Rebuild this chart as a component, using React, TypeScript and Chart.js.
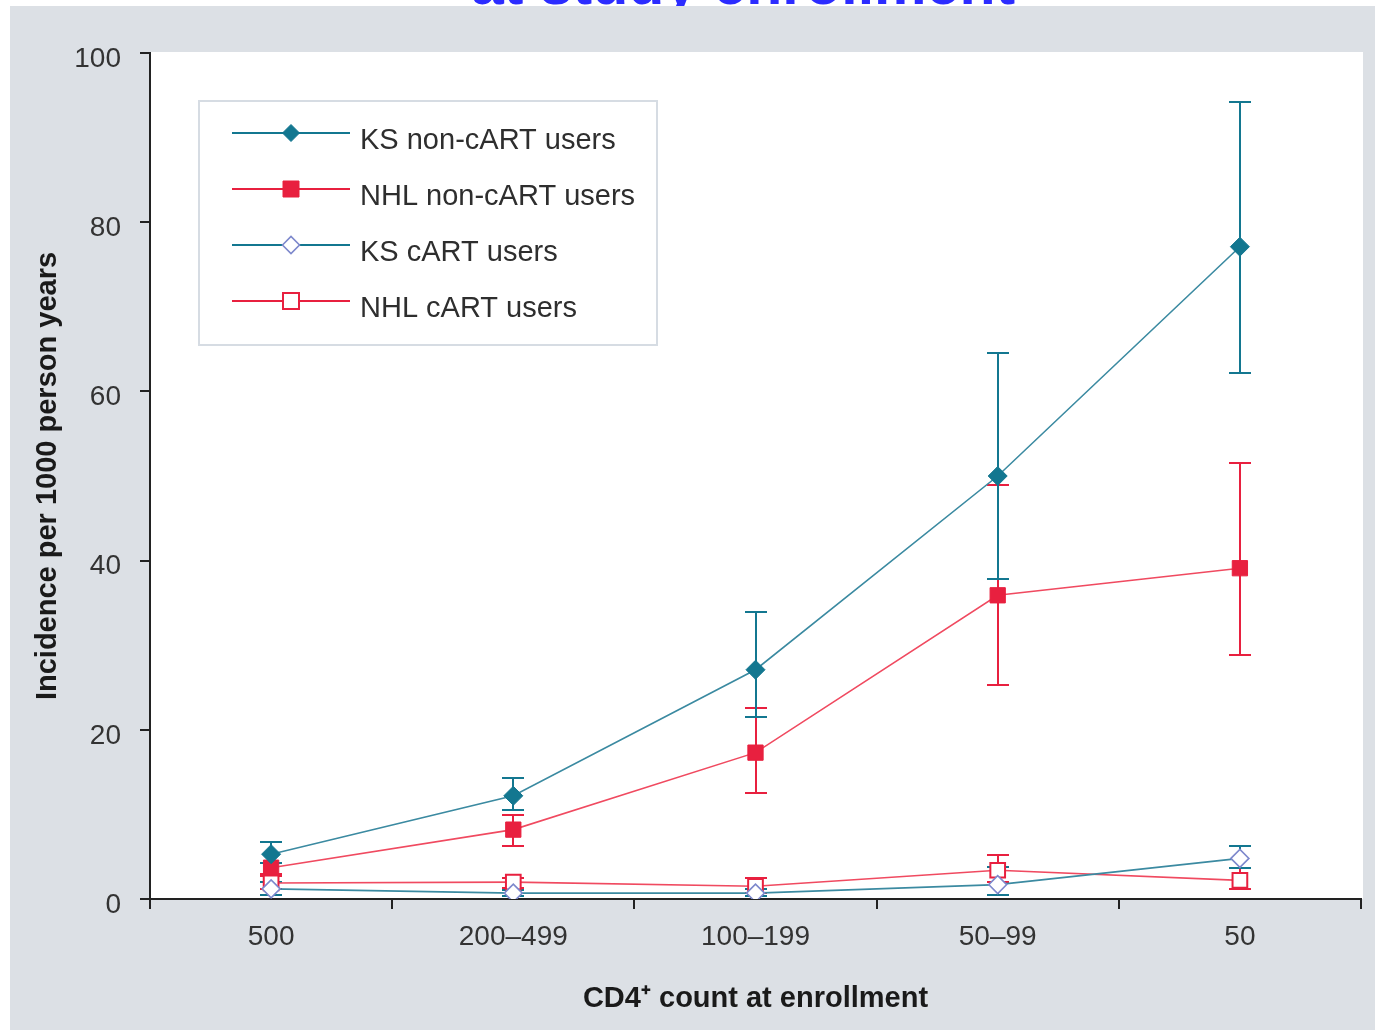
import React, { useEffect, useRef } from 'react';
import { Chart, registerables } from 'chart.js';

Chart.register(...registerables);

const categories = ['500', '200–499', '100–199', '50–99', '50'];
const seriesLabels = ['KS non-cART users', 'NHL non-cART users', 'KS cART users', 'NHL cART users'];

const ksNonCart = [5.3, 12.2, 27.1, 50.0, 77.1];
const ksNonCartLow = [4.3, 10.5, 21.5, 37.8, 62.2];
const ksNonCartHigh = [6.7, 14.3, 33.9, 64.5, 94.2];

const nhlNonCart = [3.7, 8.2, 17.3, 35.9, 39.1];
const nhlNonCartLow = [3.0, 6.3, 12.5, 25.3, 28.8];
const nhlNonCartHigh = [4.3, 9.9, 22.6, 48.9, 51.5];

const ksCart = [1.2, 0.7, 0.7, 1.7, 4.8];
const ksCartLow = [0.5, 0.4, 0.3, 0.5, 3.7];
const ksCartHigh = [2.0, 1.1, 1.2, 3.8, 6.3];

const nhlCart = [1.9, 2.0, 1.5, 3.4, 2.2];
const nhlCartLow = [1.2, 1.3, 0.7, 2.0, 1.2];
const nhlCartHigh = [2.7, 2.5, 2.5, 5.2, 3.7];

const yMin = 0;
const yMax = 100;
const yStep = 20;

const titleText = 'at study enrollment';
const xTitle = 'CD4⁺ count at enrollment';
const yTitle = 'Incidence per 1000 person years';

const FONT = "'Liberation Sans', Arial, sans-serif";
const TEAL = '#137790';
const TEAL_LINE = '#3b8aa1';
const RED = '#e8203f';
const RED_LINE = '#f04a60';
const PERI = '#7d88cc';

const plotBackground = {
  id: 'plotBackground',
  beforeDraw(chart: any) {
    const { ctx, chartArea } = chart;
    ctx.save();
    ctx.fillStyle = '#ffffff';
    ctx.fillRect(chartArea.left, chartArea.top - 1, chartArea.right - chartArea.left + 2, chartArea.bottom - chartArea.top + 1);
    ctx.restore();
  },
};

const errorBars = {
  id: 'errorBars',
  beforeDatasetsDraw(chart: any) {
    const { ctx } = chart;
    const xs = chart.scales.x;
    const ys = chart.scales.y;
    for (let d = chart.data.datasets.length - 1; d >= 0; d--) {
      const ds: any = chart.data.datasets[d];
      ctx.save();
      ctx.strokeStyle = ds.errColor;
      ctx.lineWidth = 2;
      ds.data.forEach((_: number, i: number) => {
        const px = Math.round(xs.getPixelForValue(i));
        const lo = Math.round(ys.getPixelForValue(ds.errLow[i]));
        const hi = Math.round(ys.getPixelForValue(ds.errHigh[i]));
        ctx.beginPath();
        ctx.moveTo(px, lo);
        ctx.lineTo(px, hi);
        ctx.moveTo(px - 11, lo);
        ctx.lineTo(px + 11, lo);
        ctx.moveTo(px - 11, hi);
        ctx.lineTo(px + 11, hi);
        ctx.stroke();
      });
      ctx.restore();
    }
  },
};

const boxLegend = {
  id: 'boxLegend',
  afterDraw(chart: any) {
    const { ctx } = chart;
    const bx = 199, by = 101, bw = 458, bh = 244;
    ctx.save();
    ctx.fillStyle = '#ffffff';
    ctx.fillRect(bx, by, bw, bh);
    ctx.strokeStyle = '#d6dce3';
    ctx.lineWidth = 2;
    ctx.strokeRect(bx, by, bw, bh);
    const rows = [133, 189, 245, 301];
    chart.data.datasets.forEach((ds: any, i: number) => {
      const ry = rows[i];
      ctx.strokeStyle = ds.legendLine;
      ctx.lineWidth = 2;
      ctx.beginPath();
      ctx.moveTo(232, ry);
      ctx.lineTo(350, ry);
      ctx.stroke();
      const cx = 291;
      ctx.beginPath();
      if (ds.pointStyle === 'rectRot') {
        const r = 8.5;
        ctx.moveTo(cx - r, ry);
        ctx.lineTo(cx, ry - r);
        ctx.lineTo(cx + r, ry);
        ctx.lineTo(cx, ry + r);
        ctx.closePath();
      } else {
        const h = 8;
        ctx.rect(cx - h, ry - h, 2 * h, 2 * h);
      }
      ctx.fillStyle = ds.pointBackgroundColor;
      ctx.fill();
      ctx.strokeStyle = ds.pointBorderColor;
      ctx.lineWidth = ds.pointBorderWidth;
      ctx.stroke();
      ctx.fillStyle = '#2e2e2e';
      ctx.font = `29px ${FONT}`;
      ctx.textAlign = 'left';
      ctx.textBaseline = 'alphabetic';
      ctx.fillText(ds.label, 360, ry + 16);
    });
    ctx.restore();
  },
};

export default function App() {
  const canvasRef = useRef<HTMLCanvasElement | null>(null);

  useEffect(() => {
    if (!canvasRef.current) return;
    const chart = new Chart(canvasRef.current, {
      type: 'line',
      data: {
        labels: categories,
        datasets: [
          {
            label: seriesLabels[0],
            data: ksNonCart,
            errLow: ksNonCartLow,
            errHigh: ksNonCartHigh,
            errColor: TEAL,
            legendLine: TEAL,
            borderColor: TEAL_LINE,
            borderWidth: 1.6,
            pointStyle: 'rectRot',
            pointRadius: 9.5,
            pointBackgroundColor: TEAL,
            pointBorderColor: TEAL,
            pointBorderWidth: 1,
            tension: 0,
          } as any,
          {
            label: seriesLabels[1],
            data: nhlNonCart,
            errLow: nhlNonCartLow,
            errHigh: nhlNonCartHigh,
            errColor: RED,
            legendLine: RED,
            borderColor: RED_LINE,
            borderWidth: 1.6,
            pointStyle: 'rect',
            pointRadius: 10.8,
            pointBackgroundColor: RED,
            pointBorderColor: RED,
            pointBorderWidth: 1,
            tension: 0,
          } as any,
          {
            label: seriesLabels[2],
            data: ksCart,
            errLow: ksCartLow,
            errHigh: ksCartHigh,
            errColor: TEAL,
            legendLine: TEAL,
            borderColor: TEAL_LINE,
            borderWidth: 1.6,
            pointStyle: 'rectRot',
            pointRadius: 9,
            pointBackgroundColor: '#ffffff',
            pointBorderColor: PERI,
            pointBorderWidth: 1.6,
            tension: 0,
          } as any,
          {
            label: seriesLabels[3],
            data: nhlCart,
            errLow: nhlCartLow,
            errHigh: nhlCartHigh,
            errColor: RED,
            legendLine: RED,
            borderColor: RED_LINE,
            borderWidth: 1.6,
            pointStyle: 'rect',
            pointRadius: 10.4,
            pointBackgroundColor: '#ffffff',
            pointBorderColor: RED,
            pointBorderWidth: 2,
            tension: 0,
          } as any,
        ],
      },
      options: {
        animation: false,
        responsive: false,
        devicePixelRatio: 1,
        events: [],
        layout: { padding: { top: 53, right: 14, left: 0, bottom: 0 } },
        plugins: {
          legend: { display: false },
          tooltip: { enabled: false },
          title: { display: false },
        },
        scales: {
          x: {
            type: 'category',
            offset: true,
            afterFit: (s: any) => { s.height = 131; },
            grid: {
              display: true,
              drawOnChartArea: false,
              drawTicks: true,
              tickLength: 10,
              color: '#222222',
              lineWidth: 2,
              offset: true,
            },
            border: { display: true, color: '#222222', width: 2 },
            ticks: {
              color: '#333333',
              font: { family: FONT, size: 28 },
              padding: 11,
              maxRotation: 0,
              autoSkip: false,
            },
            title: {
              display: true,
              text: xTitle,
              color: '#1a1a1a',
              font: { family: FONT, size: 29, weight: 'bold' },
              padding: { top: 0, bottom: 14 },
            },
          },
          y: {
            type: 'linear',
            min: yMin,
            max: yMax,
            afterFit: (s: any) => { s.width = 150; },
            grid: {
              display: true,
              drawOnChartArea: false,
              drawTicks: true,
              tickLength: 10,
              color: '#222222',
              lineWidth: 2,
            },
            border: { display: true, color: '#222222', width: 2 },
            ticks: {
              stepSize: yStep,
              color: '#333333',
              font: { family: FONT, size: 28 },
              padding: 19,
              labelOffset: 6,
            },
            title: {
              display: true,
              text: yTitle,
              color: '#1a1a1a',
              font: { family: FONT, size: 29, weight: 'bold' },
              padding: { top: 31, bottom: 0 },
            },
          },
        },
      } as any,
      plugins: [plotBackground, errorBars, boxLegend],
    });
    return () => chart.destroy();
  }, []);

  return (
    <div style={{ position: 'absolute', left: 0, top: 0, width: 1375, height: 1030, overflow: 'hidden', background: '#ffffff' }}>
      <div
        style={{
          position: 'absolute',
          left: 0,
          width: 1486,
          top: -45,
          textAlign: 'center',
          fontFamily: FONT,
          fontWeight: 'bold',
          fontSize: 59,
          lineHeight: 1,
          color: '#2c2cff',
          whiteSpace: 'nowrap',
        }}
      >
        {titleText}
      </div>
      <div style={{ position: 'absolute', left: 10, top: 6, width: 1365, height: 1024, background: '#dce0e5' }} />
      <canvas ref={canvasRef} width={1375} height={1030} style={{ position: 'absolute', left: 0, top: 0, width: 1375, height: 1030 }} />
    </div>
  );
}
